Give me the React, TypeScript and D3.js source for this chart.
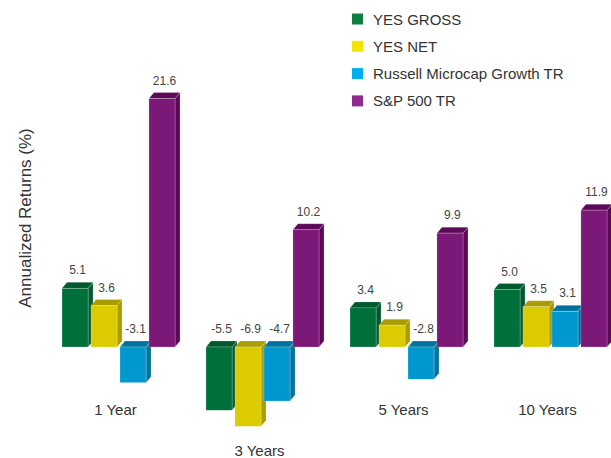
import { useMemo } from "react";
import * as d3 from "d3";

const WIDTH = 611;
const HEIGHT = 458;

const categories = ["1 Year", "3 Years", "5 Years", "10 Years"];
const seriesNames = ["YES GROSS", "YES NET", "Russell Microcap Growth TR", "S&P 500 TR"];

const yesGross = [5.1, -5.5, 3.4, 5.0];
const yesNet = [3.6, -6.9, 1.9, 3.5];
const russell = [-3.1, -4.7, -2.8, 3.1];
const sp500 = [21.6, 10.2, 9.9, 11.9];

const seriesValues = [yesGross, yesNet, russell, sp500];

// front / top+side / legend colours
const FRONT = ["#00703a", "#dccb00", "#0098cf", "#7c1877"];
const SHADE = ["#005a2d", "#a99c00", "#00739e", "#5c0a58"];
const LEGEND = ["#0f7f3f", "#f2e600", "#00aeef", "#8f2b8f"];

const DX = 5;
const DY = 6;
const FONT = "'Liberation Sans', Arial, Helvetica, sans-serif";

// plain hyphen for negatives, like the original
const fmt = d3.formatLocale({ decimal: ".", thousands: ",", grouping: [3], currency: ["", ""], minus: "-" }).format(".1f");

export default function App() {
  const xGroup = useMemo(
    () => d3.scaleBand().domain(categories).range([62, 607]).paddingInner(0.215).paddingOuter(0),
    []
  );
  const xInner = useMemo(
    () => d3.scaleBand().domain(seriesNames).range([0, xGroup.bandwidth()]).paddingInner(0.1),
    [xGroup]
  );
  // ~11.5 px per percentage point, zero line at y=347
  const yScale = useMemo(() => d3.scaleLinear().domain([-8, 23]).range([439, 82.5]), []);

  return (
    <svg width={WIDTH} height={HEIGHT} style={{ position: "absolute", left: 0, top: 0 }}>
      <rect width={WIDTH} height={HEIGHT} fill="#fff" />

      <text
        transform={`translate(31,218) rotate(-90)`}
        textAnchor="middle"
        fontFamily={FONT}
        fontSize={17}
        fill="#333"
      >
        Annualized Returns (%)
      </text>

      {categories.map((cat, ci) => {
        const gx = xGroup(cat)!;
        const minVal = d3.min(seriesValues, (s) => s[ci])!;
        const labelY = Math.max(415, yScale(Math.min(0, minVal)) + 30);
        return (
          <g key={cat}>
            {seriesNames.map((name, si) => {
              const v = seriesValues[si][ci];
              const x = gx + xInner(name)!;
              const w = xInner.bandwidth();
              const top = yScale(Math.max(0, v));
              const bot = yScale(Math.min(0, v));
              const topFace = `M${x},${top}L${x + DX},${top - DY}L${x + w + DX},${top - DY}L${x + w},${top}Z`;
              const sideFace = `M${x + w},${top}L${x + w + DX},${top - DY}L${x + w + DX},${bot - DY}L${x + w},${bot}Z`;
              return (
                <g key={name}>
                  <path d={sideFace} fill={SHADE[si]} stroke="#fff" strokeOpacity={0.35} strokeWidth={0.6} />
                  <path d={topFace} fill={SHADE[si]} stroke="#fff" strokeOpacity={0.35} strokeWidth={0.6} />
                  <rect
                    x={x}
                    y={top}
                    width={w}
                    height={bot - top}
                    fill={FRONT[si]}
                    stroke="#fff"
                    strokeOpacity={0.35}
                    strokeWidth={0.6}
                  />
                  <text
                    x={x + w / 2 + DX / 2}
                    y={top - DY - 8}
                    textAnchor="middle"
                    fontFamily={FONT}
                    fontSize={12}
                    fill="#444"
                  >
                    {fmt(v)}
                  </text>
                </g>
              );
            })}
            <text
              x={gx + xGroup.bandwidth() / 2 - 3}
              y={labelY}
              textAnchor="middle"
              fontFamily={FONT}
              fontSize={15}
              fill="#333"
            >
              {cat}
            </text>
          </g>
        );
      })}

      <g transform="translate(352,0)">
        {seriesNames.map((name, i) => (
          <g key={name} transform={`translate(0,${19 + i * 27.3})`}>
            <rect x={0} y={-5.5} width={11} height={11} fill={LEGEND[i]} />
            <text x={21} y={5.5} fontFamily={FONT} fontSize={15} fill="#333">
              {name}
            </text>
          </g>
        ))}
      </g>
    </svg>
  );
}
